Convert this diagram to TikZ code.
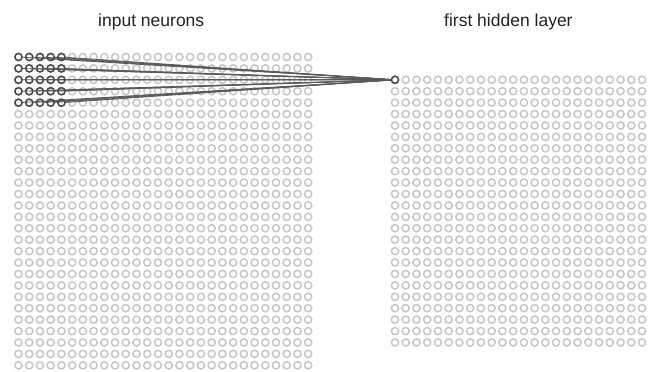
\documentclass[tikz,border=0pt]{standalone}
\usepackage{fontspec}
\setmainfont{Liberation Sans}
\definecolor{faint}{HTML}{C6C6C6}
\definecolor{strong}{HTML}{4A4A4A}
\definecolor{wire}{HTML}{5A5A5A}
\definecolor{caption}{HTML}{222222}
\begin{document}
\begin{tikzpicture}[x=1pt,y=1pt,
  neuron/.style={circle,draw=faint,line width=1.5pt,minimum size=7.2pt,inner sep=0pt},
  active/.style={neuron,draw=strong},
  link/.style={draw=wire,line width=0.8pt},
  title/.style={anchor=base west,inner sep=0pt,text=caption,font=\fontsize{17.5}{20}\selectfont}]
  \useasboundingbox (0,0) rectangle (651,-372);

  % 28 x 28 input layer
  \foreach \r in {0,...,27}
    \foreach \c in {0,...,27}
      \node[neuron] (in-\r-\c) at ({18.5+10.73*\c},{-57-11.42*\r}) {};

  % 24 x 24 first hidden layer
  \foreach \r in {0,...,23}
    \foreach \c in {0,...,23}
      \node[neuron] (h-\r-\c) at ({395+10.74*\c},{-79.8-11.42*\r}) {};

  % local receptive field: 5 x 5 inputs feeding the first hidden neuron
  \foreach \r in {0,...,4}
    \foreach \c in {0,...,4}
      \draw[link] (in-\r-\c) -- (h-0-0);
  \foreach \r in {0,...,4}
    \foreach \c in {0,...,4}
      \node[active] at (in-\r-\c) {};
  \node[active] at (h-0-0) {};

  \node[title] (t-in) at (98,-26) {input neurons};
  \node[title] (t-hid) at (444,-26) {first hidden layer};
\end{tikzpicture}
\end{document}
